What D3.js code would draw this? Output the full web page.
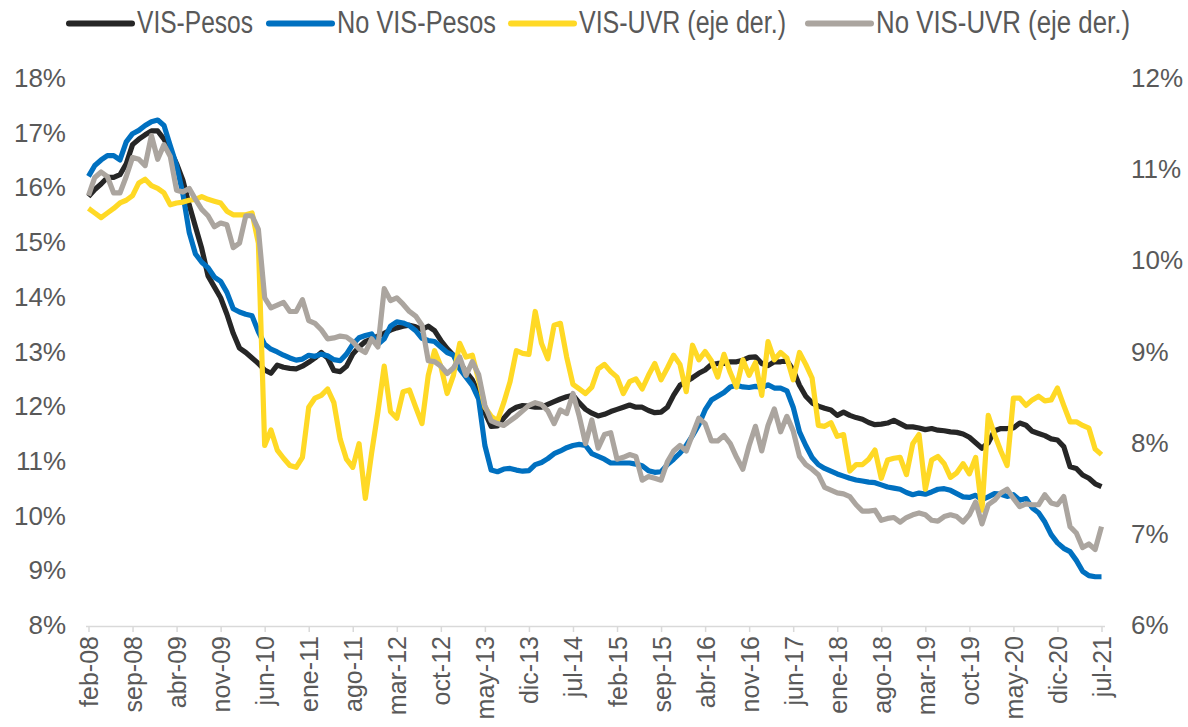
<!DOCTYPE html>
<html>
<head>
<meta charset="utf-8">
<script src="https://cdn.jsdelivr.net/npm/d3@7"></script>
<style>
  html, body { margin: 0; padding: 0; background: #ffffff; }
  svg { display: block; font-family: "Liberation Sans", Arial, sans-serif; }
</style>
</head>
<body>
<svg id="chart" width="1188" height="727"></svg>
<script>
// ---------------- DATA ----------------
const tickLabels = ["feb-08","sep-08","abr-09","nov-09","jun-10","ene-11","ago-11","mar-12","oct-12","may-13","dic-13","jul-14","feb-15","sep-15","abr-16","nov-16","jun-17","ene-18","ago-18","mar-19","oct-19","may-20","dic-20","jul-21"];
const leftTicks = [8,9,10,11,12,13,14,15,16,17,18];
const rightTicks = [6,7,8,9,10,11,12];
const seriesNames = ["VIS-Pesos","No VIS-Pesos","VIS-UVR (eje der.)","No VIS-UVR (eje der.)"];
const seriesColors = ["#262626","#0070c0","#ffd925","#aba59f"];

// monthly, feb-08 .. jul-21 (left axis, %)
const visPesos = [
15.85,15.98,16.08,16.2,16.2,16.25,16.45,16.8,16.9,16.98,
17.05,17.05,16.9,16.7,16.45,16.15,15.7,15.3,14.9,14.4,
14.2,14.0,13.7,13.35,13.08,13.0,12.9,12.8,12.68,12.62,
12.77,12.73,12.71,12.7,12.75,12.82,12.9,13.0,12.9,12.67,
12.65,12.75,12.97,13.1,13.2,13.25,13.3,13.35,13.41,13.45,
13.48,13.5,13.47,13.42,13.48,13.4,13.22,13.07,12.95,12.82,
12.65,12.5,12.25,11.9,11.65,11.66,11.8,11.93,12.0,12.03,
12.02,12.0,12.0,12.05,12.1,12.15,12.19,12.22,12.08,11.96,
11.89,11.84,11.87,11.92,11.96,12.0,12.04,12.0,12.0,11.94,
11.9,11.91,12.0,12.22,12.4,12.47,12.54,12.62,12.68,12.78,
12.8,12.8,12.83,12.83,12.86,12.91,12.92,12.8,12.76,12.83,
12.83,12.85,12.68,12.4,12.2,12.08,12.02,11.98,11.95,11.85,
11.91,11.85,11.81,11.78,11.72,11.68,11.69,11.71,11.76,11.7,
11.64,11.64,11.62,11.59,11.61,11.58,11.57,11.55,11.54,11.51,
11.45,11.35,11.25,11.35,11.57,11.61,11.61,11.62,11.71,11.67,
11.56,11.52,11.48,11.42,11.4,11.28,10.91,10.88,10.76,10.7,10.6,10.55];

const noVisPesos = [
16.22,16.42,16.52,16.6,16.6,16.52,16.85,17.0,17.06,17.15,
17.22,17.25,17.15,16.78,16.42,15.9,15.2,14.8,14.65,14.55,
14.38,14.3,14.1,13.8,13.74,13.7,13.67,13.38,13.15,13.06,
13.01,12.95,12.9,12.86,12.88,12.95,12.93,12.97,12.94,12.87,
12.85,12.97,13.15,13.27,13.31,13.34,13.15,13.25,13.48,13.56,
13.54,13.49,13.4,13.26,13.22,13.2,13.1,13.0,12.95,12.7,
12.55,12.4,12.15,11.3,10.85,10.82,10.87,10.88,10.85,10.83,
10.84,10.95,10.99,11.06,11.15,11.2,11.26,11.3,11.32,11.3,
11.15,11.1,11.05,10.98,10.98,10.98,10.98,10.96,10.93,10.84,
10.81,10.82,10.95,11.05,11.16,11.3,11.48,11.68,11.95,12.13,
12.2,12.27,12.37,12.4,12.37,12.36,12.38,12.36,12.41,12.35,
12.35,12.3,12.0,11.55,11.3,11.08,10.95,10.88,10.83,10.78,
10.74,10.7,10.67,10.65,10.63,10.62,10.58,10.54,10.52,10.5,
10.44,10.4,10.43,10.41,10.45,10.5,10.51,10.48,10.42,10.36,
10.35,10.39,10.31,10.36,10.42,10.41,10.37,10.4,10.3,10.33,
10.16,10.07,9.9,9.67,9.52,9.42,9.36,9.2,9.0,8.92,8.9,8.9];

// right axis, %
const visUVR = [
10.58,10.53,10.48,10.53,10.58,10.64,10.67,10.72,10.86,10.9,
10.83,10.8,10.75,10.62,10.64,10.65,10.67,10.68,10.71,10.68,
10.66,10.64,10.55,10.51,10.51,10.51,10.53,10.2,7.98,8.15,
7.93,7.84,7.76,7.74,7.85,8.4,8.5,8.53,8.6,8.45,
8.05,7.83,7.74,8.0,7.4,7.9,8.35,8.85,8.35,8.28,
8.57,8.59,8.4,8.22,8.75,9.02,8.85,8.55,8.75,9.1,
8.95,8.97,8.7,8.4,8.3,8.25,8.45,8.68,9.02,8.99,
8.98,9.45,9.1,8.93,9.3,9.32,8.95,8.65,8.6,8.55,
8.62,8.82,8.87,8.79,8.73,8.55,8.68,8.71,8.6,8.75,
8.88,8.7,8.83,8.97,8.87,8.57,9.08,8.92,9.01,8.91,
8.73,8.98,8.78,8.62,8.92,8.75,8.89,8.53,9.12,8.92,
9.0,8.94,8.7,9.0,8.87,8.72,8.2,8.19,8.23,8.08,
8.1,7.7,7.77,7.77,7.83,7.93,7.62,7.82,7.84,7.85,
7.66,8.0,8.1,7.5,7.82,7.86,7.78,7.63,7.68,7.78,
7.67,7.85,7.27,8.31,8.1,7.92,7.76,8.5,8.5,8.42,
8.48,8.52,8.47,8.48,8.61,8.42,8.24,8.24,8.2,8.17,7.94,7.88];

const noVisUVR = [
10.72,10.92,10.98,10.93,10.75,10.75,10.93,11.14,11.12,11.05,
11.38,11.12,11.28,11.15,10.78,10.76,10.8,10.68,10.57,10.5,
10.38,10.42,10.4,10.15,10.2,10.5,10.5,10.35,9.6,9.49,
9.52,9.55,9.45,9.45,9.58,9.35,9.32,9.25,9.15,9.16,
9.18,9.17,9.12,9.04,9.0,9.15,9.06,9.7,9.57,9.6,
9.53,9.45,9.4,9.3,8.91,8.9,8.85,8.77,8.83,8.95,
8.75,8.9,8.76,8.42,8.25,8.22,8.2,8.25,8.3,8.36,
8.42,8.45,8.43,8.36,8.22,8.37,8.33,8.55,8.3,8.0,
8.26,7.95,8.1,8.12,7.83,7.85,7.88,7.86,7.6,7.64,
7.62,7.6,7.8,7.92,7.98,7.92,8.1,8.28,8.22,8.03,
8.03,8.09,8.0,7.85,7.72,7.98,8.19,7.92,8.2,8.38,
8.13,8.3,8.14,7.86,7.77,7.72,7.66,7.52,7.49,7.46,
7.45,7.42,7.33,7.26,7.26,7.27,7.16,7.18,7.19,7.14,
7.19,7.22,7.24,7.22,7.16,7.15,7.2,7.22,7.2,7.14,
7.22,7.36,7.12,7.33,7.38,7.46,7.5,7.4,7.31,7.34,
7.33,7.33,7.44,7.35,7.33,7.42,7.09,7.02,6.86,6.9,6.84,7.09];

// ---------------- CHART ----------------
const svg = d3.select("#chart");
const textColor = "#595959";
const n = visPesos.length;

const x = d3.scaleLinear().domain([0, n - 1]).range([88.5, 1101.5]);
const yL = d3.scaleLinear().domain([8, 18]).range([626, 79]);
const yR = d3.scaleLinear().domain([6, 12]).range([626, 79]);

// x axis
const xAxis = d3.axisBottom(x)
  .tickValues(d3.range(0, n, 7))
  .tickFormat((d, i) => tickLabels[i])
  .tickSize(6)
  .tickSizeOuter(0);
const gx = svg.append("g").attr("transform", "translate(0,626)").call(xAxis);
gx.select(".domain").attr("stroke", "#d9d9d9").attr("stroke-width", 1.5)
  .attr("d", "M86,0.5H1105");
gx.selectAll(".tick line").attr("stroke", "#d9d9d9").attr("stroke-width", 1.5);
gx.selectAll(".tick text")
  .attr("transform", "rotate(-90)")
  .attr("x", -10).attr("y", 0).attr("dy", "0.36em")
  .style("text-anchor", "end")
  .attr("fill", textColor)
  .style("font-size", "25px")
  .style("font-family", "'Liberation Sans', Arial, sans-serif");

// left axis labels
const yAxisL = d3.axisLeft(yL).tickValues(leftTicks).tickFormat(d => d + "%").tickSize(0).tickPadding(0);
const gyl = svg.append("g").attr("transform", "translate(66,0)").call(yAxisL);
gyl.select(".domain").remove();
gyl.selectAll("text").attr("fill", textColor).attr("dy", "0.29em")
  .style("font-size", "26px").style("font-family", "'Liberation Sans', Arial, sans-serif");

// right axis labels
const yAxisR = d3.axisRight(yR).tickValues(rightTicks).tickFormat(d => d + "%").tickSize(0).tickPadding(0);
const gyr = svg.append("g").attr("transform", "translate(1131,0)").call(yAxisR);
gyr.select(".domain").remove();
gyr.selectAll("text").attr("fill", textColor).attr("dy", "0.29em")
  .style("font-size", "26px").style("font-family", "'Liberation Sans', Arial, sans-serif");

// lines
const series = [
  { values: visPesos, y: yL },
  { values: noVisPesos, y: yL },
  { values: visUVR, y: yR },
  { values: noVisUVR, y: yR }
];
series.forEach((s, k) => {
  const line = d3.line().x((d, i) => x(i)).y(d => s.y(d));
  svg.append("path")
    .datum(s.values)
    .attr("d", line)
    .attr("fill", "none")
    .attr("stroke", seriesColors[k])
    .attr("stroke-width", 5.2)
    .attr("stroke-linejoin", "round")
    .attr("stroke-linecap", "butt");
});

// legend
const legendLineX = [69, 269, 511, 808];
const legendTextW = [116, 159, 207, 254];
const legend = svg.append("g");
seriesNames.forEach((name, k) => {
  const lx = legendLineX[k];
  legend.append("line")
    .attr("x1", lx).attr("x2", lx + 63)
    .attr("y1", 23.5).attr("y2", 23.5)
    .attr("stroke", seriesColors[k]).attr("stroke-width", 6)
    .attr("stroke-linecap", "round");
  legend.append("text")
    .attr("x", lx + 68).attr("y", 33)
    .attr("fill", textColor)
    .attr("textLength", legendTextW[k])
    .attr("lengthAdjust", "spacingAndGlyphs")
    .style("font-size", "31px")
    .style("font-family", "'Liberation Sans', Arial, sans-serif")
    .text(name);
});
</script>
</body>
</html>
